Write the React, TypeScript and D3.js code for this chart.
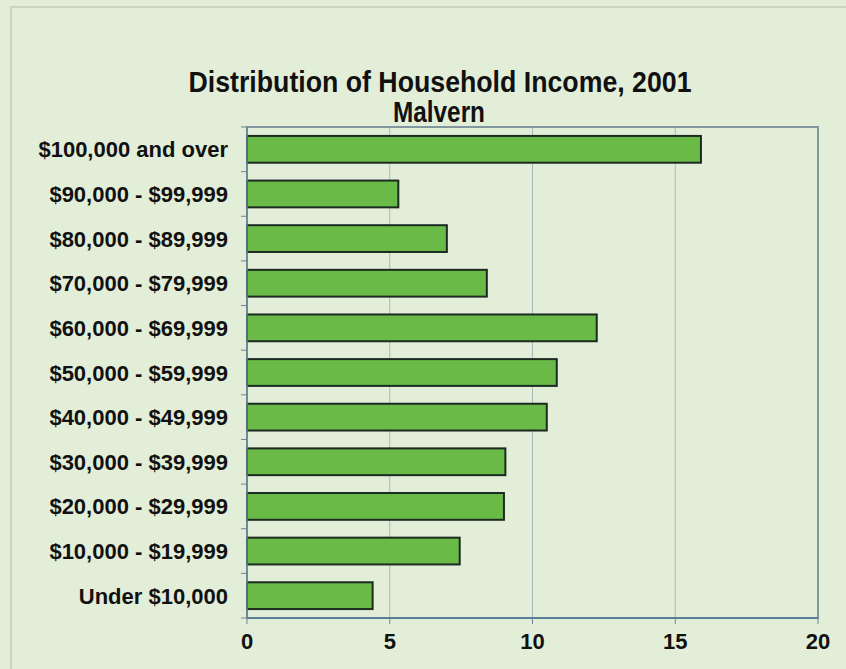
import React from "react";
import * as d3 from "d3";

const categories = [
  "$100,000 and over",
  "$90,000 - $99,999",
  "$80,000 - $89,999",
  "$70,000 - $79,999",
  "$60,000 - $69,999",
  "$50,000 - $59,999",
  "$40,000 - $49,999",
  "$30,000 - $39,999",
  "$20,000 - $29,999",
  "$10,000 - $19,999",
  "Under $10,000",
];
const values = [15.9, 5.3, 7.0, 8.4, 12.25, 10.85, 10.5, 9.05, 9.0, 7.45, 4.4];
const xTicks = [0, 5, 10, 15, 20];
const titleLines = ["Distribution of Household Income, 2001", "Malvern"];

const W = 846;
const H = 669;
const plot = { left: 247, right: 818, top: 127, bottom: 618 };
const FONT = "'Liberation Sans', Arial, Helvetica, sans-serif";

export default function App() {
  const x = d3.scaleLinear().domain([0, 20]).range([plot.left, plot.right]);
  const y = d3
    .scaleBand<string>()
    .domain(categories)
    .range([plot.top, plot.bottom])
    .paddingInner(0.4)
    .paddingOuter(0.2);
  const band = d3.scaleBand<string>().domain(categories).range([plot.top, plot.bottom]);

  return (
    <svg
      width={W}
      height={H}
      style={{ position: "absolute", left: 0, top: 0, background: "#e3eed9" }}
    >
      <rect x={0} y={0} width={W} height={H} fill="#e3eed9" />
      <rect x={11} y={7} width={W} height={H} fill="none" stroke="#c9d6c4" strokeWidth={2} />
      <text
        x={440}
        y={92}
        textAnchor="middle"
        fontFamily={FONT}
        fontWeight="bold"
        fontSize={29}
        fill="#111"
        textLength={503}
        lengthAdjust="spacingAndGlyphs"
      >
        {titleLines[0]}
      </text>
      <text
        x={439}
        y={122}
        textAnchor="middle"
        fontFamily={FONT}
        fontWeight="bold"
        fontSize={29}
        fill="#111"
        textLength={92}
        lengthAdjust="spacingAndGlyphs"
      >
        {titleLines[1]}
      </text>

      {/* gridlines */}
      {xTicks.slice(1, -1).map((t) => (
        <line
          key={"g" + t}
          x1={x(t)}
          x2={x(t)}
          y1={plot.top}
          y2={plot.bottom}
          stroke="#a9b9bb"
          strokeWidth={1}
        />
      ))}

      {/* plot border */}
      <rect
        x={plot.left}
        y={plot.top}
        width={plot.right - plot.left}
        height={plot.bottom - plot.top}
        fill="none"
        stroke="#8197a0"
        strokeWidth={2}
      />

      {/* bars */}
      {categories.map((c, i) => (
        <rect
          key={c}
          x={x(0)}
          y={y(c)}
          width={x(values[i]) - x(0)}
          height={y.bandwidth()}
          fill="#6aba47"
          stroke="#1b2b22"
          strokeWidth={2}
        />
      ))}

      {/* left axis */}
      <line x1={plot.left} x2={plot.left} y1={plot.top} y2={plot.bottom} stroke="#6a8598" strokeWidth={1.5} />
      {d3.range(categories.length + 1).map((i) => {
        const yy = plot.top + i * band.step();
        return (
          <line key={"lt" + i} x1={plot.left - 6} x2={plot.left} y1={yy} y2={yy} stroke="#6a8598" strokeWidth={1} />
        );
      })}
      {categories.map((c) => (
        <text
          key={"l" + c}
          x={228}
          y={(band(c) as number) + band.bandwidth() / 2 + 8}
          textAnchor="end"
          fontFamily={FONT}
          fontWeight="bold"
          fontSize={22}
          fill="#111"
        >
          {c}
        </text>
      ))}

      {/* bottom axis */}
      <line x1={plot.left} x2={plot.right} y1={plot.bottom} y2={plot.bottom} stroke="#5a7e96" strokeWidth={2} />
      {xTicks.map((t) => (
        <g key={"xt" + t}>
          <line x1={x(t)} x2={x(t)} y1={plot.bottom} y2={plot.bottom + 6} stroke="#6a8598" strokeWidth={1} />
          <text
            x={x(t)}
            y={649}
            textAnchor="middle"
            fontFamily={FONT}
            fontWeight="bold"
            fontSize={22}
            fill="#111"
          >
            {t}
          </text>
        </g>
      ))}
    </svg>
  );
}
